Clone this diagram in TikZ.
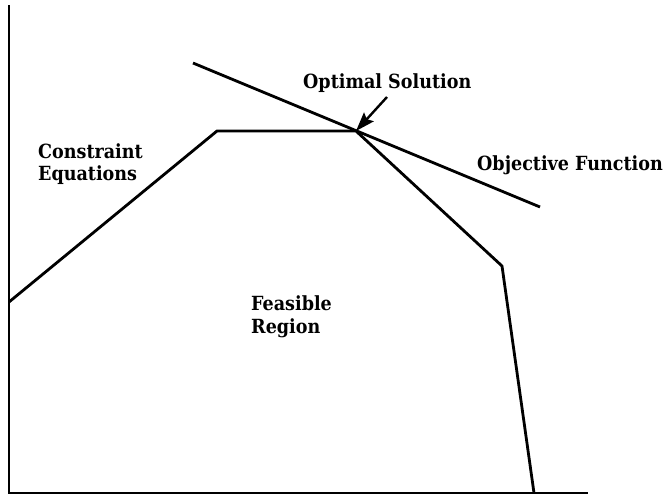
\documentclass[tikz,border=0pt]{standalone}
\usepackage{fontspec}
\setmainfont{DejaVu Serif}[FakeStretch=0.9]
\usetikzlibrary{arrows.meta}
\begin{document}
\begin{tikzpicture}[x=1pt,y=-1pt,
  ln/.style={line width=2.8pt, line join=miter},
  lbl/.style={font=\fontsize{19.5}{24}\selectfont\bfseries, inner sep=0pt, align=left}]
\useasboundingbox (0,0) rectangle (667,496);
% axes
\coordinate (top) at (9,5);
\coordinate (orig) at (9,493);
\coordinate (xend) at (588,493);
\draw[ln] (top) -- (orig) -- (xend);
% constraint polygon
\coordinate (p1) at (9,302);
\coordinate (p2) at (217,131);
\coordinate (opt) at (356,131);
\coordinate (p4) at (502,266);
\coordinate (p5) at (534,493);
\draw[ln] (p1) -- (p2) -- (opt) -- (p4) -- (p5);
% objective line
\coordinate (o1) at (193,63);
\coordinate (o2) at (540,207);
\draw[ln] (o1) -- (o2);
% labels
\node[lbl, anchor=base west] (optlbl) at (303,88) {Optimal Solution};
\coordinate (atail) at (387,97);
\draw[line width=2.4pt, -{Stealth[length=19pt,width=13pt,inset=3pt]}] (atail) -- (opt);
\node[lbl, anchor=base west] (objlbl) at (477,170) {Objective Function};
\node[lbl, anchor=base west] (con1) at (38,158) {Constraint};
\node[lbl, anchor=base west] (con2) at (38,180) {Equations};
\node[lbl, anchor=base west] (fea1) at (251,310) {Feasible};
\node[lbl, anchor=base west] (fea2) at (251,333) {Region};
\end{tikzpicture}
\end{document}
